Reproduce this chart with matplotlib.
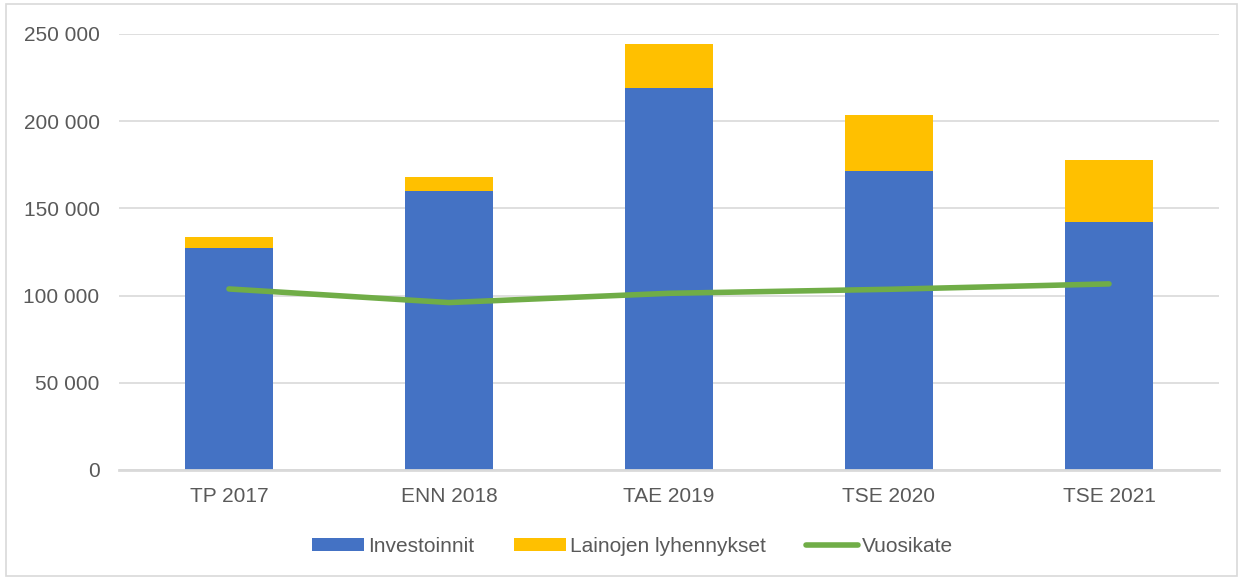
import matplotlib.pyplot as plt
from matplotlib.patches import Rectangle
from matplotlib.ticker import FuncFormatter

categories = ['TP 2017', 'ENN 2018', 'TAE 2019', 'TSE 2020', 'TSE 2021']
investoinnit = [127300, 159900, 219000, 171300, 142000]
lainojen_lyhennykset = [6300, 8100, 25400, 32100, 35600]
vuosikate = [103800, 96000, 101300, 103600, 106700]

plt.rcParams['font.family'] = ['Liberation Sans', 'DejaVu Sans']

fig = plt.figure(figsize=(12.43, 5.78), dpi=100)
ax = fig.add_axes([0.0957, 0.1869, 0.885, 0.7543])

x = range(len(categories))
b1 = ax.bar(x, investoinnit, width=0.4, color='#4472C4', label='Investoinnit', zorder=2)
b2 = ax.bar(x, lainojen_lyhennykset, width=0.4, bottom=investoinnit, color='#FFC000',
            label='Lainojen lyhennykset', zorder=2)
l1, = ax.plot(x, vuosikate, color='#70AD47', linewidth=4, solid_capstyle='round',
              label='Vuosikate', zorder=3)

ax.set_xlim(-0.5, len(categories) - 0.5)
ax.set_ylim(0, 250000)
ax.set_yticks(range(0, 250001, 50000))
ax.yaxis.set_major_formatter(FuncFormatter(lambda v, p: f"{int(v):,}".replace(',', ' ')))
ax.set_xticks(list(x))
ax.set_xticklabels(categories)
ax.grid(axis='y', color='#D9D9D9', linewidth=1.2, zorder=0)
ax.set_axisbelow(True)
for s in ['top', 'right', 'left']:
    ax.spines[s].set_visible(False)
ax.spines['bottom'].set_color('#D9D9D9')
ax.spines['bottom'].set_linewidth(2)
ax.tick_params(axis='both', length=0, labelsize=15, colors='#595959')
ax.tick_params(axis='x', pad=12)
ax.tick_params(axis='y', pad=14)

ax.legend([b1, b2, l1], ['Investoinnit', 'Lainojen lyhennykset', 'Vuosikate'],
          loc='center', bbox_to_anchor=(0.467, -0.175), ncol=3, frameon=False,
          fontsize=15, labelcolor='#595959', handlelength=2.5, handleheight=0.55,
          handletextpad=0.2, columnspacing=1.9)

fig.patches.append(Rectangle((0.005, 0.004), 0.99, 0.989, transform=fig.transFigure,
                             fill=False, edgecolor='#D9D9D9', linewidth=1.2))

fig.savefig('out.png', dpi=100)
